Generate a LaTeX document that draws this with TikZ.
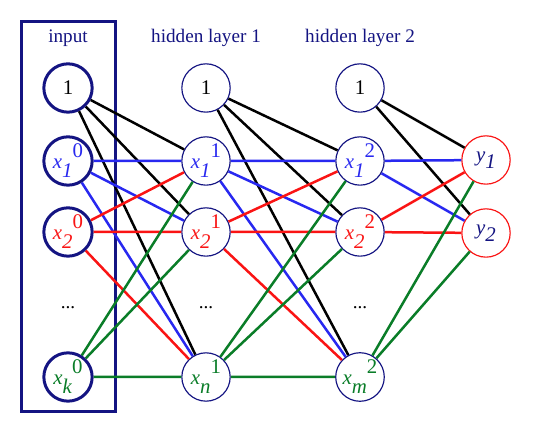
\documentclass[tikz,border=0pt]{standalone}
\usepackage{fontspec}
\setmainfont{Liberation Serif}
\usepackage{tikz}
\usetikzlibrary{positioning}

\definecolor{navy}{RGB}{20,20,130}
\definecolor{eblue}{RGB}{40,40,240}
\definecolor{ered}{RGB}{250,20,20}
\definecolor{egreen}{RGB}{10,125,40}

\newcommand{\nlab}[2]{\textit{x}\raisebox{-1ex}{\textit{#1}}\raisebox{1.1ex}{#2}}
\newcommand{\ylab}[1]{\textit{y}\raisebox{-0.7ex}{\textit{#1}}}

\begin{document}
\fontsize{11.5}{13}\selectfont
\begin{tikzpicture}
    [
    x=0.6pt, y=-0.6pt,
    unit/.style={circle,draw=navy,fill=white,inner sep=0pt,minimum size=29pt,font=\fontsize{12.5}{14}\selectfont},
    inunit/.style={unit,line width=1.8pt},
    hidunit/.style={unit,line width=0.7pt},
    outunit/.style={unit,draw=ered,line width=0.7pt},
    title/.style={text=navy},
    edge/.style={line width=1.5pt},
    ]
    \useasboundingbox (0,0) rectangle (541,432);
    \draw [navy, line width=1.8pt] (21.5,21.5) rectangle (115.5,411.5);

    \node (t0) at (68,38) [title] {input};
    \node (t1) at (206,38) [title] {hidden layer 1};
    \node (t2) at (360,38) [title] {hidden layer 2};

    % input layer
    \node (b0) at (68,88) [inunit] {1};
    \node (x10) at (68,161) [inunit, text=eblue] {\nlab{1}{0}};
    \node (x20) at (68,232) [inunit, text=ered] {\nlab{2}{0}};
    \node (d0) at (68,308) {...};
    \node (xk0) at (68,377) [inunit, text=egreen] {\nlab{k}{0}};

    % hidden layer 1
    \node (b1) at (206,88) [hidunit] {1};
    \node (x11) at (206,161) [hidunit, text=eblue] {\nlab{1}{1}};
    \node (x21) at (206,232) [hidunit, text=ered] {\nlab{2}{1}};
    \node (d1) at (206,308) {...};
    \node (xn1) at (206,377) [hidunit, text=egreen] {\nlab{n}{1}};

    % hidden layer 2
    \node (b2) at (360,88) [hidunit] {1};
    \node (x12) at (360,161) [hidunit, text=eblue] {\nlab{1}{2}};
    \node (x22) at (360,232) [hidunit, text=ered] {\nlab{2}{2}};
    \node (d2) at (360,308) {...};
    \node (xm2) at (360,377) [hidunit, text=egreen] {\nlab{m}{2}};

    % output
    \node (y1) at (486,160) [outunit, text=navy] {\ylab{1}};
    \node (y2) at (486,233) [outunit, text=navy] {\ylab{2}};

    \draw [edge, black] (b0) to (x11) (b0) to (x21) (b0) to (xn1);
    \draw [edge, eblue] (x10) to (x11) (x10) to (x21) (x10) to (xn1);
    \draw [edge, ered] (x20) to (x11) (x20) to (x21) (x20) to (xn1);
    \draw [edge, egreen] (xk0) to (x11) (xk0) to (x21) (xk0) to (xn1);

    \draw [edge, black] (b1) to (x12) (b1) to (x22) (b1) to (xm2);
    \draw [edge, eblue] (x11) to (x12) (x11) to (x22) (x11) to (xm2);
    \draw [edge, ered] (x21) to (x12) (x21) to (x22) (x21) to (xm2);
    \draw [edge, egreen] (xn1) to (x12) (xn1) to (x22) (xn1) to (xm2);

    \draw [edge, black] (b2) to (y1) (b2) to (y2);
    \draw [edge, eblue] (x12) to (y1) (x12) to (y2);
    \draw [edge, ered] (x22) to (y1) (x22) to (y2);
    \draw [edge, egreen] (xm2) to (y1) (xm2) to (y2);
  \end{tikzpicture}
\end{document}
